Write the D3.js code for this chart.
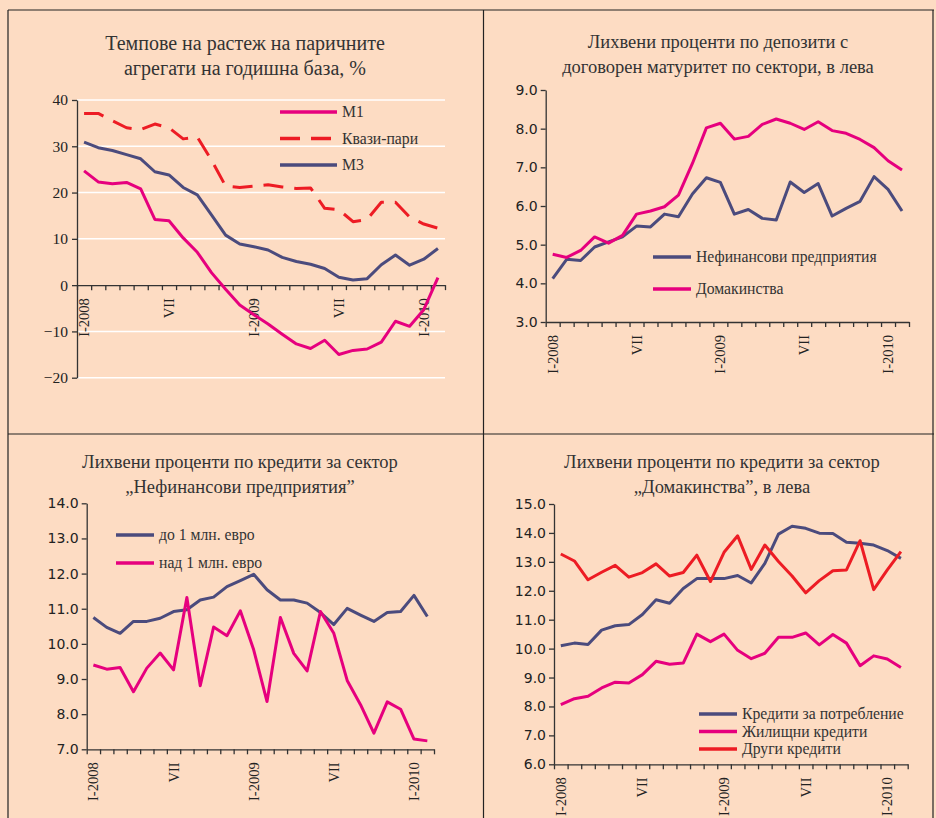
<!DOCTYPE html>
<html>
<head>
<meta charset="utf-8">
<script src="https://cdn.jsdelivr.net/npm/d3@7"></script>
<style>
    body { margin: 0; background: #fddcc3; }
    svg { display: block; }
    .title { font-family: "Liberation Serif", "Times New Roman", serif; font-size: 18.5px; fill: #333; }
    .legend { font-family: "Liberation Serif", "Times New Roman", serif; font-size: 15.7px; fill: #333; }
    .xlab { font-family: "Liberation Serif", "Times New Roman", serif; font-size: 14.5px; fill: #222; }
    .axis path, .axis line { stroke: #333; stroke-width: 1.3px; }
    .axis text { fill: #222; }
</style>
</head>
<body>
<div id="chart-area"></div>
<script>
// months Jan 2008 - Feb 2010
var months = ["I-2008","II","III","IV","V","VI","VII","VIII","IX","X","XI","XII",
              "I-2009","II","III","IV","V","VI","VII","VIII","IX","X","XI","XII",
              "I-2010","II"];
var labelIdx = [0, 6, 12, 18, 24];

// panel 1 - money aggregates, % y/y
var m1 = [24.7, 22.3, 21.9, 22.2, 20.8, 14.2, 13.9, 10.2, 7.1, 2.7, -0.9, -4.3, -6.4,
          -8.4, -10.6, -12.7, -13.7, -11.9, -15.0, -14.1, -13.8, -12.3, -7.8, -8.9, -5.3, 1.6];
var quasi = [37.1, 37.1, 35.5, 34.0, 33.6, 34.8, 34.0, 31.6, 32.0, 27.0, 21.4, 21.1, 21.4,
             21.7, 21.2, 20.9, 21.0, 16.6, 16.3, 13.7, 14.2, 17.9, 17.9, 14.7, 13.2, 12.3];
var m3 = [30.9, 29.7, 29.1, 28.2, 27.3, 24.5, 23.8, 21.1, 19.5, 15.2, 10.8, 8.9, 8.3,
          7.6, 6.0, 5.1, 4.5, 3.6, 1.7, 1.1, 1.4, 4.4, 6.5, 4.3, 5.6, 7.9];

// panel 2 - deposit rates
var depCorp = [4.12, 4.62, 4.59, 4.94, 5.07, 5.20, 5.48, 5.46, 5.79, 5.72, 6.31, 6.73, 6.61,
               5.79, 5.91, 5.68, 5.64, 6.62, 6.35, 6.58, 5.74, 5.94, 6.12, 6.76, 6.43, 5.87];
var depHouse = [4.75, 4.67, 4.85, 5.20, 5.04, 5.24, 5.79, 5.87, 5.98, 6.28, 7.10, 8.02, 8.14,
                7.73, 7.80, 8.11, 8.25, 8.14, 7.98, 8.18, 7.95, 7.88, 7.72, 7.51, 7.17, 6.93];

// panel 3 - loans to non-financial corporations
var loanSmall = [10.75, 10.47, 10.30, 10.64, 10.64, 10.73, 10.92, 10.97, 11.25, 11.33, 11.63, 11.80, 11.98,
                 11.54, 11.25, 11.25, 11.16, 10.89, 10.55, 11.01, 10.82, 10.64, 10.89, 10.92, 11.38, 10.78];
var loanBig = [9.40, 9.28, 9.33, 8.64, 9.31, 9.74, 9.26, 11.32, 8.81, 10.48, 10.23, 10.94, 9.83,
               8.36, 10.75, 9.73, 9.23, 10.92, 10.30, 8.96, 8.27, 7.46, 8.35, 8.14, 7.29, 7.24];

// panel 4 - loans to households
var consumer = [10.10, 10.19, 10.14, 10.64, 10.79, 10.83, 11.18, 11.69, 11.57, 12.08, 12.42, 12.42, 12.42,
                12.53, 12.27, 12.95, 13.96, 14.23, 14.16, 13.99, 13.98, 13.68, 13.64, 13.58, 13.39, 13.12];
var housing = [8.06, 8.27, 8.35, 8.64, 8.84, 8.81, 9.10, 9.56, 9.46, 9.50, 10.50, 10.24, 10.50,
               9.94, 9.65, 9.84, 10.39, 10.39, 10.54, 10.13, 10.49, 10.19, 9.41, 9.75, 9.64, 9.35];
var other = [13.27, 13.03, 12.38, 12.64, 12.88, 12.47, 12.63, 12.93, 12.51, 12.63, 13.23, 12.32, 13.33,
             13.90, 12.74, 13.58, 13.01, 12.51, 11.93, 12.35, 12.69, 12.72, 13.73, 12.04, 12.72, 13.35];

var pink = "#e6007e", red = "#ed1c24", navy = "#4b4b7d";

var width = 936, height = 818;

var svg = d3.select("#chart-area").append("svg")
    .attr("width", width)
    .attr("height", height);

// panel frame lines
var frame = [[8, 10, 934, 10], [8, 10, 8, 818], [483.5, 10, 483.5, 818],
             [8, 434, 934, 434], [933, 10, 933, 818]];
svg.selectAll(".frame").data(frame).enter().append("line")
    .attr("x1", function(d) { return d[0]; })
    .attr("y1", function(d) { return d[1]; })
    .attr("x2", function(d) { return d[2]; })
    .attr("y2", function(d) { return d[3]; })
    .style("stroke", "#222")
    .style("stroke-width", 1.2);

function drawPanel(p) {
    var g = svg.append("g");

    var x = d3.scaleLinear().domain([0, months.length]).range([p.x0, p.x1]);
    var y = d3.scaleLinear().domain(p.yDomain).range([p.yBottom, p.yTop]);

    // title
    g.append("text").attr("class", "title")
        .attr("text-anchor", "middle")
        .style("font-size", p.titleSize || null)
        .selectAll("tspan").data(p.title).enter().append("tspan")
        .attr("x", p.titleX)
        .attr("y", function(d, i) { return p.titleY + i * 25; })
        .text(function(d) { return d; });

    // gridlines
    if (p.grid) {
        g.selectAll(".grid").data(p.yTicks.filter(function(v) { return v !== 0; }))
            .enter().append("line")
            .attr("x1", p.x0).attr("x2", p.x1)
            .attr("y1", function(d) { return y(d); })
            .attr("y2", function(d) { return y(d); })
            .style("stroke", "#fff")
            .style("stroke-width", 1.5);
    }

    // y axis
    var yAxis = g.append("g").attr("class", "axis")
        .attr("transform", "translate(" + p.x0 + ",0)")
        .call(d3.axisLeft(y).tickValues(p.yTicks).tickSize(5).tickSizeOuter(0)
            .tickFormat(p.yFormat));
    yAxis.selectAll("text")
        .style("font-family", p.yFont)
        .style("font-size", p.yFontSize)
        .attr("x", -p.yPad);

    // x axis with ticks between categories
    var xAxisY = y(p.xAt);
    g.append("g").attr("class", "axis")
        .attr("transform", "translate(0," + xAxisY + ")")
        .call(d3.axisBottom(x).tickValues(d3.range(months.length + 1)).tickSize(5)
            .tickSizeOuter(0).tickFormat(""));

    g.selectAll(".xlab").data(labelIdx).enter()
        .append("text").attr("class", "xlab")
        .attr("text-anchor", "end")
        .attr("transform", function(i) {
            return "translate(" + (x(i + 0.5) + 5) + "," + (xAxisY + 13) + ")rotate(-90)";
        })
        .text(function(i) { return i % 12 === 0 ? months[i] : "VII"; });

    // lines
    var line = d3.line()
        .x(function(d, i) { return x(i + 0.5); })
        .y(function(d) { return y(d); });

    p.series.forEach(function(s) {
        g.append("path")
            .datum(s.values)
            .attr("d", line)
            .style("fill", "none")
            .style("stroke", s.color)
            .style("stroke-width", 3)
            .style("stroke-linejoin", "round")
            .style("stroke-dasharray", s.dash || null);
    });

    // legend
    p.series.forEach(function(s, i) {
        var ly = p.legendY + i * p.legendStep;
        g.append("line")
            .attr("x1", p.legendX).attr("x2", p.legendX + p.legendLen)
            .attr("y1", ly).attr("y2", ly)
            .style("stroke", s.color)
            .style("stroke-width", 3.5)
            .style("stroke-dasharray", s.dash || null);
        g.append("text").attr("class", "legend")
            .attr("x", p.legendX + p.legendLen + 5)
            .attr("y", ly + 5)
            .text(s.name);
    });
}

var serif = "'Liberation Serif', 'Times New Roman', serif";
var sans = "'DejaVu Sans', Verdana, sans-serif";

drawPanel({
    title: ["Темпове на растеж на паричните", "агрегати на годишна база, %"],
    titleX: 245, titleY: 50, titleSize: "20px",
    x0: 77, x1: 445, yTop: 100, yBottom: 377.7,
    yDomain: [-20, 40], yTicks: [-20, -10, 0, 10, 20, 30, 40], xAt: 0,
    yFormat: d3.format("d"), yFont: serif, yFontSize: "15.5px", yPad: 9,
    grid: true,
    series: [
        {name: "M1", values: m1, color: pink},
        {name: "Квази-пари", values: quasi, color: red, dash: "20,11"},
        {name: "M3", values: m3, color: navy}
    ],
    legendX: 280, legendLen: 57, legendY: 112, legendStep: 26.5
});

drawPanel({
    title: ["Лихвени проценти по депозити с", "договорен матуритет по сектори, в лева"],
    titleX: 718, titleY: 48, titleSize: "18.5px",
    x0: 545.7, x1: 909, yTop: 90, yBottom: 322,
    yDomain: [3, 9], yTicks: d3.range(3, 9.5, 1), xAt: 3,
    yFormat: d3.format(".1f"), yFont: sans, yFontSize: "14px", yPad: 8,
    grid: false,
    series: [
        {name: "Нефинансови предприятия", values: depCorp, color: navy},
        {name: "Домакинства", values: depHouse, color: pink}
    ],
    legendX: 653, legendLen: 38, legendY: 257, legendStep: 32
});

drawPanel({
    title: ["Лихвени проценти по кредити за сектор", "„Нефинансови предприятия”"],
    titleX: 240, titleY: 468, titleSize: "18.5px",
    x0: 86.7, x1: 434, yTop: 503.3, yBottom: 749.3,
    yDomain: [7, 14], yTicks: d3.range(7, 14.5, 1), xAt: 7,
    yFormat: d3.format(".1f"), yFont: sans, yFontSize: "14px", yPad: 8,
    grid: false,
    series: [
        {name: "до 1 млн. евро", values: loanSmall, color: navy},
        {name: "над 1 млн. евро", values: loanBig, color: pink}
    ],
    legendX: 116, legendLen: 38, legendY: 535, legendStep: 28
});

drawPanel({
    title: ["Лихвени проценти по кредити за сектор", "„Домакинства”, в лева"],
    titleX: 722, titleY: 468, titleSize: "18.5px",
    x0: 554, x1: 907.7, yTop: 504, yBottom: 764.3,
    yDomain: [6, 15], yTicks: d3.range(6, 15.5, 1), xAt: 6,
    yFormat: d3.format(".1f"), yFont: sans, yFontSize: "14px", yPad: 8,
    grid: false,
    series: [
        {name: "Кредити за потребление", values: consumer, color: navy},
        {name: "Жилищни кредити", values: housing, color: pink},
        {name: "Други кредити", values: other, color: red}
    ],
    legendX: 699, legendLen: 38, legendY: 714, legendStep: 17.5
});
</script>
</body>
</html>
